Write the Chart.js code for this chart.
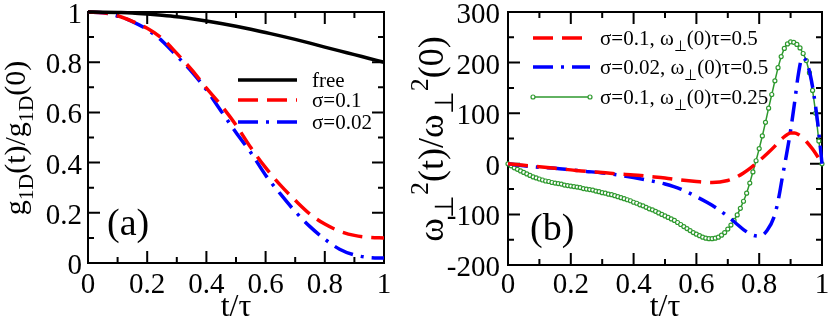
<!DOCTYPE html>
<html>
<head>
<meta charset="utf-8">
<script src="https://cdn.jsdelivr.net/npm/chart.js@4.4.1/dist/chart.umd.min.js"></script>
<style>
  html, body { margin: 0; padding: 0; background: #fff; }
  #wrap { position: relative; width: 830px; height: 326px; overflow: hidden; }
  canvas { position: absolute; top: 0; }
  #chart-a { left: 0; }
  #chart-b { left: 375px; }
  #labels { position: absolute; left: 0; top: 0; width: 830px; height: 326px; z-index: 3; pointer-events: none; }
  .lbl { position: absolute; white-space: nowrap; line-height: 1; color: #000; font-family: 'Liberation Serif', 'Times New Roman', serif; }
  .tick { font-size: 29px; }
  .leg { font-size: 21px; }
  .letter { font-size: 38px; }
  .xt { font-size: 32px; }
  .yt-a { font-size: 30px; }
  .yt-b { font-size: 36px; }
  .sub { font-size: 0.72em; position: relative; top: 0.39em; }
  .sup { font-size: 0.72em; position: relative; top: -0.58em; }
</style>
</head>
<body>
<div id="wrap">
  <canvas id="chart-a" width="415" height="326"></canvas>
  <canvas id="chart-b" width="455" height="326"></canvas>
  <div id="labels"></div>
</div>
<script>
// ---- panel (a): g1D(t)/g1D(0) ----
const timeA = [0, 0.05, 0.1, 0.15, 0.2, 0.25, 0.3, 0.35, 0.4, 0.45, 0.5, 0.55, 0.6, 0.65, 0.7, 0.75, 0.8, 0.85, 0.9, 0.95, 1];
const freeValues = [1, 0.9995, 0.998, 0.996, 0.992, 0.987, 0.981, 0.973, 0.964, 0.954, 0.943, 0.931, 0.918, 0.905, 0.891, 0.876, 0.86, 0.845, 0.83, 0.815, 0.8];
const sigma01Values = [1, 0.997, 0.985, 0.963, 0.935, 0.895, 0.835, 0.77, 0.697, 0.628, 0.55, 0.46, 0.38, 0.31, 0.25, 0.195, 0.155, 0.127, 0.11, 0.102, 0.1];
const sigma002Values = [1, 0.997, 0.984, 0.962, 0.93, 0.885, 0.825, 0.763, 0.69, 0.605, 0.52, 0.44, 0.35, 0.275, 0.205, 0.145, 0.095, 0.055, 0.032, 0.022, 0.02];
const aYTicks = [0, 0.2, 0.4, 0.6, 0.8, 1];
const aYMinor = [0.1, 0.3, 0.5, 0.7, 0.9];

// ---- panel (b): w_perp^2(t)/w_perp^2(0) ----
const timeB = [0, 0.05, 0.1, 0.15, 0.2, 0.25, 0.3, 0.35, 0.4, 0.45, 0.5, 0.55, 0.6, 0.65, 0.7, 0.725, 0.75, 0.775, 0.8, 0.825, 0.85, 0.8625, 0.875, 0.8875, 0.9, 0.9125, 0.925, 0.9375, 0.95, 0.9625, 0.975, 0.9875, 1];
const redB = [0, -3, -6, -9, -12, -15, -17, -20, -22, -25, -28, -32, -35, -37, -33, -27, -18, -7, 6, 20, 35, 44, 51, 57, 61, 61, 58, 52, 44, 35, 25, 13, 0];
const blueB = [0, -4, -7, -9, -12, -15, -18, -22, -27, -33, -40, -50, -65, -82, -104, -117, -130, -140, -143, -132, -100, -66, -22, 20, 66, 120, 178, 210, 202, 176, 133, 75, 0];
const timeGreen = [0, 0.01, 0.02, 0.03, 0.04, 0.05, 0.06, 0.07, 0.08, 0.09, 0.1, 0.11, 0.12, 0.13, 0.14, 0.15, 0.16, 0.17, 0.18, 0.19, 0.2,
  0.21, 0.22, 0.23, 0.24, 0.25, 0.26, 0.27, 0.28, 0.29, 0.3, 0.31, 0.32, 0.33, 0.34, 0.35, 0.36, 0.37, 0.38, 0.39, 0.4,
  0.41, 0.42, 0.43, 0.44, 0.45, 0.46, 0.47, 0.48, 0.49, 0.5, 0.51, 0.52, 0.53, 0.54, 0.55, 0.56, 0.57, 0.58, 0.59, 0.6,
  0.61, 0.62, 0.63, 0.64, 0.65, 0.66, 0.67, 0.68, 0.69, 0.7, 0.71, 0.72, 0.73, 0.74, 0.75, 0.76, 0.77, 0.78, 0.79, 0.8,
  0.81, 0.82, 0.83, 0.84, 0.85, 0.86, 0.87, 0.88, 0.89, 0.9, 0.91, 0.92, 0.93, 0.94, 0.95, 0.96, 0.97, 0.98, 0.99, 1];
const greenB = [0, -4, -8, -11, -14, -17, -20, -23, -26, -28, -30, -32, -34, -35, -37, -38, -39, -40, -42, -43, -44,
  -45, -46, -47, -49, -50, -51, -52, -54, -55, -57, -58, -60, -61, -63, -65, -67, -69, -71, -73, -76,
  -78, -81, -83, -86, -89, -91, -94, -97, -100, -103, -106, -109, -112, -116, -120, -124, -128, -132, -136, -139,
  -142, -145, -147, -148, -148, -147, -145, -141, -136, -129, -121, -112, -101, -88, -74, -58, -38, -16, 6, 30,
  55, 82, 110, 137, 164, 190, 212, 228, 237, 241, 240, 236, 229, 218, 204, 180, 145, 100, 45, 0];
const bYTicks = [-200, -100, 0, 100, 200, 300];
const bYMinor = [-150, -50, 50, 150, 250];

// shared x axis ticks
const xTicks = [0, 0.2, 0.4, 0.6, 0.8, 1];
const xMinor = [0.1, 0.3, 0.5, 0.7, 0.9];

const labelLayer = document.getElementById('labels');

function toPoints(xs, ys) {
    return xs.map((x, i) => ({ x: x, y: ys[i] }));
}

// one piece of real (html) text on top of the charts
function addText(html, x, y, cls, transform) {
    const el = document.createElement('div');
    el.className = 'lbl ' + cls;
    el.innerHTML = html;
    el.style.left = x + 'px';
    el.style.top = y + 'px';
    el.style.transform = transform;
    labelLayer.appendChild(el);
}

// box with inward ticks on all four sides
function drawFrame(chart, cfg) {
    const ctx = chart.ctx;
    const area = chart.chartArea;
    const sx = chart.scales.x;
    const sy = chart.scales.y;
    ctx.save();
    ctx.strokeStyle = '#000';
    ctx.lineWidth = 2;
    ctx.strokeRect(area.left, area.top, area.right - area.left, area.bottom - area.top);
    ctx.beginPath();
    const xMark = (v, len) => {
        const px = sx.getPixelForValue(v);
        ctx.moveTo(px, area.bottom); ctx.lineTo(px, area.bottom - len);
        ctx.moveTo(px, area.top); ctx.lineTo(px, area.top + len);
    };
    const yMark = (v, len) => {
        const py = sy.getPixelForValue(v);
        ctx.moveTo(area.left, py); ctx.lineTo(area.left + len, py);
        ctx.moveTo(area.right, py); ctx.lineTo(area.right - len, py);
    };
    xTicks.forEach(v => xMark(v, 12));
    xMinor.forEach(v => xMark(v, 6));
    cfg.yTicks.forEach(v => yMark(v, 12));
    cfg.yMinor.forEach(v => yMark(v, 6));
    ctx.stroke();
    ctx.restore();
}

// legend sample lines, styled from the datasets themselves
function drawLegendLines(chart, cfg) {
    const ctx = chart.ctx;
    cfg.legend.forEach((row, i) => {
        const ds = chart.data.datasets[row.dataset];
        const y = cfg.legendRows[i];
        ctx.save();
        ctx.strokeStyle = ds.borderColor;
        ctx.lineWidth = ds.borderWidth;
        ctx.setLineDash(ds.borderDash || []);
        ctx.beginPath();
        ctx.moveTo(cfg.legendLine[0], y);
        ctx.lineTo(cfg.legendLine[1], y);
        ctx.stroke();
        ctx.setLineDash([]);
        if (ds.pointRadius > 0) {
            ctx.lineWidth = ds.pointBorderWidth;
            ctx.fillStyle = ds.pointBackgroundColor;
            [cfg.legendLine[0], cfg.legendLine[1]].forEach(px => {
                ctx.beginPath();
                ctx.arc(px, y, ds.pointRadius, 0, Math.PI * 2);
                ctx.fill();
                ctx.stroke();
            });
        }
        ctx.restore();
    });
}

function makeDecorPlugin(cfg) {
    return {
        id: 'decor' + cfg.letter.replace(/\W/g, ''),
        beforeDatasetsDraw(chart) { drawFrame(chart, cfg); },
        afterDatasetsDraw(chart) { drawLegendLines(chart, cfg); }
    };
}

// tick labels, legend text, panel letter and titles, placed with the chart's scales
function addPanelLabels(chart, cfg) {
    const area = chart.chartArea;
    const sx = chart.scales.x;
    const sy = chart.scales.y;
    const ox = cfg.offsetX;
    cfg.yTicks.forEach(v => {
        addText(String(v), ox + area.left - cfg.yPad, sy.getPixelForValue(v) + 1, 'tick', 'translate(-100%, -50%)');
    });
    xTicks.forEach(v => {
        addText(String(v), ox + sx.getPixelForValue(v), area.bottom + cfg.xPad, 'tick', 'translate(-50%, 0)');
    });
    cfg.legend.forEach((row, i) => {
        addText(row.html, ox + cfg.legendText, cfg.legendRows[i], 'leg', 'translate(0, -50%)');
    });
    addText(cfg.letter, ox + cfg.letterPos[0], cfg.letterPos[1], 'letter', 'translate(0, -50%)');
    addText('t/\u03c4', ox + (area.left + area.right) / 2, 289, 'xt', 'translate(-50%, 0)');
    addText(cfg.yTitle, ox + cfg.yTitleX, (area.top + area.bottom) / 2, cfg.yTitleCls, 'translate(-50%, -50%) rotate(-90deg)');
}

// common options for one panel
function panelOptions(cfg) {
    return {
        responsive: false,
        animation: false,
        events: [],
        layout: { padding: { left: 0, right: cfg.padRight, top: cfg.padTop, bottom: 0 } },
        plugins: { legend: { display: false }, tooltip: { enabled: false } },
        elements: { point: { radius: 0 } },
        scales: {
            x: {
                type: 'linear',
                min: 0,
                max: 1,
                grid: { display: false, drawTicks: false },
                border: { display: false },
                ticks: { display: false },
                afterFit: s => { s.height = cfg.xHeight; s.paddingLeft = 0; s.paddingRight = 0; }
            },
            y: {
                type: 'linear',
                min: cfg.yMin,
                max: cfg.yMax,
                grid: { display: false, drawTicks: false },
                border: { display: false },
                ticks: { display: false },
                afterFit: s => { s.width = cfg.yWidth; s.paddingTop = 0; s.paddingBottom = 0; }
            }
        }
    };
}

const perp = '<span class="sub">\u22a5</span>';

const cfgA = {
    offsetX: 0,
    letter: '(a)', letterPos: [107, 222],
    yMin: 0, yMax: 1, yTicks: aYTicks, yMinor: aYMinor,
    yWidth: 88, yPad: 6, xHeight: 63, xPad: 6, padRight: 31, padTop: 12,
    legendLine: [238, 297], legendText: 312, legendRows: [80, 100, 122],
    legend: [
        { dataset: 0, html: 'free' },
        { dataset: 1, html: '\u03c3=0.1' },
        { dataset: 2, html: '\u03c3=0.02' }
    ],
    yTitleX: 15, yTitleCls: 'yt-a',
    yTitle: 'g<span class="sub">1D</span>(t)/g<span class="sub">1D</span>(0)'
};

const cfgB = {
    offsetX: 375,
    letter: '(b)', letterPos: [155, 227],
    yMin: -200, yMax: 300, yTicks: bYTicks, yMinor: bYMinor,
    yWidth: 133, yPad: 8, xHeight: 61, xPad: 4, padRight: 8, padTop: 12,
    legendLine: [158, 215], legendText: 225, legendRows: [38, 67, 97],
    legend: [
        { dataset: 0, html: '\u03c3=0.1, \u03c9' + perp + '(0)\u03c4=0.5' },
        { dataset: 1, html: '\u03c3=0.02, \u03c9' + perp + '(0)\u03c4=0.5' },
        { dataset: 2, html: '\u03c3=0.1, \u03c9' + perp + '(0)\u03c4=0.25' }
    ],
    yTitleX: 56, yTitleCls: 'yt-b',
    yTitle: '\u03c9' + perp + '<span class="sup">2</span>(t)/\u03c9' + perp + '<span class="sup">2</span>(0)'
};

// panel (a)
const chartA = new Chart(document.getElementById('chart-a'), {
    type: 'line',
    data: {
        datasets: [
            { data: toPoints(timeA, freeValues), borderColor: '#000000', borderWidth: 3.5, cubicInterpolationMode: 'monotone', clip: false },
            { data: toPoints(timeA, sigma01Values), borderColor: '#ff0000', borderWidth: 3.5, borderDash: [20, 9], cubicInterpolationMode: 'monotone', clip: false },
            { data: toPoints(timeA, sigma002Values), borderColor: '#0000ff', borderWidth: 3.5, borderDash: [20, 8, 3, 8], cubicInterpolationMode: 'monotone', clip: false }
        ]
    },
    options: panelOptions(cfgA),
    plugins: [makeDecorPlugin(cfgA)]
});
addPanelLabels(chartA, cfgA);

// panel (b)
const chartB = new Chart(document.getElementById('chart-b'), {
    type: 'line',
    data: {
        datasets: [
            { data: toPoints(timeB, redB), borderColor: '#ff0000', borderWidth: 3.5, borderDash: [20, 9], cubicInterpolationMode: 'monotone', clip: false },
            { data: toPoints(timeB, blueB), borderColor: '#0000ff', borderWidth: 3.5, borderDash: [20, 8, 3, 8], cubicInterpolationMode: 'monotone', clip: false },
            { data: toPoints(timeGreen, greenB), borderColor: '#2e992e', borderWidth: 1.5, pointRadius: 2, pointBorderWidth: 1.2,
              pointBorderColor: '#2e992e', pointBackgroundColor: '#ffffff', clip: false }
        ]
    },
    options: panelOptions(cfgB),
    plugins: [makeDecorPlugin(cfgB)]
});
addPanelLabels(chartB, cfgB);
</script>
</body>
</html>
